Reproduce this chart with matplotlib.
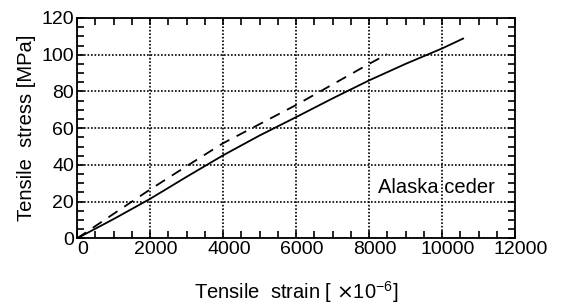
import matplotlib
matplotlib.use("Agg")
import matplotlib.pyplot as plt
from matplotlib.ticker import MultipleLocator
from matplotlib.transforms import ScaledTranslation

plt.rcParams['font.family'] = ['Liberation Sans', 'DejaVu Sans']

# data
solid_strain = [0, 1000, 2000, 3000, 4000, 5000, 6000, 7000, 8000, 9000, 10000, 10600]
solid_stress = [0, 10.5, 21.5, 33.5, 45.2, 56.0, 66.0, 76.2, 86.0, 95.0, 103.4, 109.0]
dash_strain = [0, 1200, 2000, 3000, 4000, 6000, 8000, 8500]
dash_stress = [0, 16.0, 26.6, 39.3, 51.8, 72.6, 95.0, 100.3]
xticks = [0, 2000, 4000, 6000, 8000, 10000, 12000]
yticks = [0, 20, 40, 60, 80, 100, 120]

fig = plt.figure(figsize=(5.61, 3.06), dpi=100)
ax = fig.add_axes([77/561, 1-238.4/306, (515-77)/561, (238.4-18)/306])

ax.plot(solid_strain, solid_stress, color='black', lw=1.3, solid_capstyle='butt')
ax.plot(dash_strain, dash_stress, color='black', lw=1.3, dashes=(6, 4.5))

ax.set_xlim(0, 12000)
ax.set_ylim(0, 120)
ax.set_xticks(xticks)
ax.set_yticks(yticks)
ax.xaxis.set_minor_locator(MultipleLocator(500))
ax.yaxis.set_minor_locator(MultipleLocator(5))
ax.grid(True, which='major', color='black', linestyle=(0, (1, 1.1)), lw=1.2)
ax.tick_params(which='both', direction='in', top=True, right=True, length=5, width=1.2,
               labelsize=14, pad=2)
for s in ax.spines.values():
    s.set_linewidth(1.3)

ax.set_xticklabels([str(t) for t in xticks])
ax.set_yticklabels([str(t) for t in yticks])
off = ScaledTranslation(6/100, 0, fig.dpi_scale_trans)
for lab in ax.get_xticklabels():
    lab.set_transform(lab.get_transform() + off)

ax.text(11450, 27.5, 'Alaska ceder', ha='right', va='center', fontsize=14.5)

ax.set_ylabel('Tensile  stress [MPa]', fontsize=14.5, labelpad=4)
ax.set_xlabel(r'Tensile  strain [ $\times$10$^{\mathregular{-6}}$]', fontsize=14.5, labelpad=15)

fig.savefig('out.png', dpi=100)
